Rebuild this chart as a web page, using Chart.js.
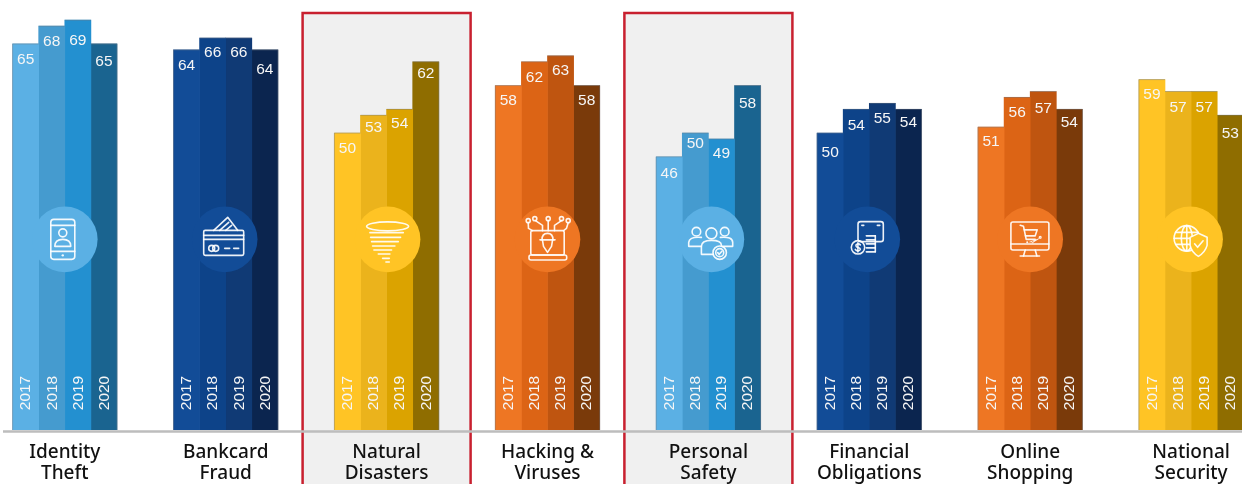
<!DOCTYPE html>
<html>
<head>
<meta charset="utf-8">
<style>html,body{margin:0;padding:0;background:#fff;overflow:hidden}canvas{display:block}</style>
<script src="https://cdn.jsdelivr.net/npm/chart.js@4/dist/chart.umd.min.js"></script>
</head>
<body>
<canvas id="c" width="1242" height="484"></canvas>
<script>
const categories = [["Identity","Theft"],["Bankcard","Fraud"],["Natural","Disasters"],["Hacking &","Viruses"],["Personal","Safety"],["Financial","Obligations"],["Online","Shopping"],["National","Security"]];
const years = ["2017","2018","2019","2020"];
const values2017 = [65,64,50,58,46,50,51,59];
const values2018 = [68,66,53,62,50,54,56,57];
const values2019 = [69,66,54,63,49,55,57,57];
const values2020 = [65,64,62,58,58,54,54,53];
const highlighted = [2,4];
const sky = ["#5BB0E4","#459BCF","#2390D0","#1A6490"];
const navy = ["#124C97","#0D4389","#103A75","#0B254F"];
const gold = ["#FFC425","#EBB31C","#DBA300","#8F6D00"];
const orange = ["#EE7623","#DC6415","#BF5510","#7A3A0A"];
const groupPalette = [sky,navy,gold,orange,sky,navy,orange,gold];
const iconShift = [0,-1,1,0,3,-2,0,-1];
const labelNudge = [[0,0,5,2],[0,-1,-1,4],[0,-3,-1,-4],[0,0,-1,0],[1,-5,-1,3],[4,1,0,-2],[-1,0,2,-2],[0,1,1,3]];

function line(g,pts){g.beginPath();pts.forEach((p,i)=>i?g.lineTo(p[0],p[1]):g.moveTo(p[0],p[1]));g.stroke();}
function circ(g,x,y,r){g.beginPath();g.arc(x,y,r,0,Math.PI*2);g.stroke();}
const icons = [
 g=>{g.beginPath();g.roundRect(-14,-20,24,40,3);g.stroke();line(g,[[-14,-14],[10,-14]]);line(g,[[-14,12],[10,12]]);
  circ(g,-2,-6.5,4);g.beginPath();g.moveTo(-10,7);g.quadraticCurveTo(-10,0,-2,0);g.quadraticCurveTo(6,0,6,7);g.closePath();g.stroke();
  g.beginPath();g.arc(-2,16,1.2,0,7);g.fill();},
 g=>{g.beginPath();g.roundRect(-21,-9,40,25,1.5);g.stroke();line(g,[[-21,-4],[19,-4]]);line(g,[[-21,0],[19,0]]);
  line(g,[[-11,-9],[3,-22],[13,-9]]);line(g,[[-5,-9],[4,-17]]);line(g,[[1,-9],[7,-14]]);
  circ(g,-13,9,3);circ(g,-9,9,3);line(g,[[0,9],[5,9]]);line(g,[[9,9],[14,9]]);},
 g=>{g.beginPath();g.ellipse(0,-13,21,4.5,0,0,7);g.stroke();
  [[-6.7,-17.7,15.7],[-2,-17,13],[2.3,-16,10.7],[6.7,-15,7.3],[10.7,-13.7,4],[14.7,-9.3,2.3],[19,-5,1.7],[22.7,-1.7,1.7]].forEach(s=>line(g,[[s[1],s[0]],[s[2],s[0]]]));},
 g=>{g.beginPath();g.roundRect(-16.7,-8.7,33.4,24.4,1.5);g.stroke();g.beginPath();g.roundRect(-18.5,15.7,37.7,5,2);g.stroke();
  [[-19.3,-18.7],[-12.7,-20.7],[0.7,-20.7],[14,-20.7],[20.7,-18.7]].forEach(p=>circ(g,p[0],p[1],2));
  line(g,[[-19.3,-16.7],[-19,-11],[-15,-8.7]]);line(g,[[-12,-18.7],[-5,-14],[-5,-8.7]]);line(g,[[0.7,-18.7],[0.7,-8.7]]);line(g,[[14,-18.7],[7,-14],[7,-8.7]]);line(g,[[20.7,-16.7],[19,-11],[16,-8.7]]);
  line(g,[[-7.5,0.5],[7.5,0.5]]);g.beginPath();g.moveTo(-5.5,0.5);g.quadraticCurveTo(-5.5,-6,0,-6);g.quadraticCurveTo(5.5,-6,5.5,0.5);g.stroke();
  line(g,[[-5,1],[-4,7],[0,13],[4,7],[5,1]]);},
 g=>{circ(g,-15,-7.7,4.3);circ(g,13.3,-7.7,4.3);circ(g,0,-6,5.5);
  g.beginPath();g.moveTo(-10,-2);g.quadraticCurveTo(-22,-3,-22.7,3);g.lineTo(-22.7,7);g.lineTo(-10,7);g.stroke();
  g.beginPath();g.moveTo(9,-2);g.quadraticCurveTo(21,-3,21.3,3);g.lineTo(21.3,7);g.lineTo(11,7);g.stroke();
  g.beginPath();g.moveTo(2,15);g.lineTo(-10,15);g.lineTo(-10,7);g.quadraticCurveTo(-10,1,0,1);g.quadraticCurveTo(10,1,10,6);g.stroke();
  circ(g,8.3,13.3,6.7);circ(g,8.3,13.3,4);line(g,[[6.3,13.3],[7.8,15],[10.5,11.8]]);},
 g=>{g.beginPath();g.roundRect(-9.3,-17.7,25.3,20,2.5);g.stroke();line(g,[[-5.5,-14],[-3.5,-14]]);line(g,[[10,-14],[12.5,-14]]);
  [-3.5,0.5,4.5,8.5,12.5].forEach(y=>line(g,[[-1,y],[8,y]]));line(g,[[8,-3.5],[8,12.5]]);
  circ(g,-9.3,8,6.7);g.beginPath();g.moveTo(-7,5.5);g.bezierCurveTo(-9,3.5,-12.5,5,-11,7.2);g.bezierCurveTo(-10,8.5,-7,8,-7,10);g.bezierCurveTo(-7.5,12,-11,12,-12,10);g.stroke();line(g,[[-9.4,3.4],[-9.4,12.6]]);},
 g=>{g.beginPath();g.roundRect(-19.3,-17.3,38,28,2);g.stroke();line(g,[[-19.3,4.7],[18.7,4.7]]);
  line(g,[[-5,10.7],[-6.7,16.7]]);line(g,[[5,10.7],[6.7,16.7]]);line(g,[[-10,16.7],[9.3,16.7]]);
  line(g,[[-10,-14],[-6.7,-13],[-4,0],[5,0]]);line(g,[[-6,-9.5],[7,-9.5],[5,-3.5],[-4.8,-3.5]]);
  g.beginPath();g.arc(-3,2.8,1,0,7);g.arc(2.5,2.8,1,0,7);g.arc(10,-2,1.6,0,7);g.fill();},
 (g,bg)=>{circ(g,-3.3,-1,12.7);g.beginPath();g.ellipse(-3.3,-1,5.5,12.7,0,0,7);g.stroke();line(g,[[-3.3,-13.7],[-3.3,11.7]]);line(g,[[-16,-1],[9.4,-1]]);line(g,[[-14.5,-7],[8,-7]]);line(g,[[-14.5,5],[8,5]]);
  g.beginPath();g.moveTo(0,-2);g.lineTo(8.3,-6);g.lineTo(17,-2);g.lineTo(17,6);g.quadraticCurveTo(15,13,8.3,17);g.quadraticCurveTo(1.5,13,0,6);g.closePath();g.fillStyle=bg;g.fill();g.stroke();
  line(g,[[4.5,4.5],[7.5,8],[13,1.5]]);}
];

const paintPlugin = {
 id:"paint",
 beforeDraw(chart){
  const g=chart.ctx,x=chart.scales.x;
  g.save();
  highlighted.forEach(i=>{
   const cx=x.getPixelForValue(i);
   g.fillStyle="#F0F0F0";g.fillRect(cx-84,13,168,480);
   g.strokeStyle="#C8202F";g.lineWidth=2.5;g.strokeRect(cx-84,13,168,480);
  });
  g.restore();
 },
 afterDatasetsDraw(chart){
  const g=chart.ctx,{x,y}=chart.scales,area=chart.chartArea;
  g.save();
  const n=chart.data.datasets.length;
  chart.data.datasets.forEach((ds,d)=>{
   chart.getDatasetMeta(d).data.forEach(bar=>{
    const l=bar.x-bar.width/2,r=bar.x+bar.width/2;
    g.fillStyle="rgba(110,120,130,.45)";
    g.fillRect(l,bar.y-0.5,bar.width,1);
    if(d===0)g.fillRect(l-0.5,bar.y,1,area.bottom-bar.y);
    if(d===n-1)g.fillRect(r-0.5,bar.y,1,area.bottom-bar.y);
   });
  });
  g.strokeStyle="#BDBDBD";g.lineWidth=2.5;g.beginPath();g.moveTo(3,area.bottom+1.5);g.lineTo(1242,area.bottom+1.5);g.stroke();
  chart.data.datasets.forEach((ds,d)=>{
   chart.getDatasetMeta(d).data.forEach((bar,i)=>{
    g.fillStyle="#F6F6F6";g.textAlign="center";g.textBaseline="middle";
    g.font='15.5px "Liberation Sans", Arial, sans-serif';
    g.fillText(String(ds.data[i].y),bar.x,bar.y+15.5+labelNudge[i][d]);
    g.save();g.translate(bar.x+0.5,area.bottom-37);g.rotate(-Math.PI/2);
    g.fillText(ds.label,0,0);g.restore();
   });
  });
  categories.forEach((c,i)=>{
   const cx=x.getPixelForValue(i)+iconShift[i],cy=y.getPixelForValue(32.1),bg=groupPalette[i][0];
   g.fillStyle=bg;g.beginPath();g.arc(cx,cy,32.8,0,Math.PI*2);g.fill();
   g.save();g.translate(cx,cy);g.strokeStyle="rgba(255,255,255,.92)";g.fillStyle="rgba(255,255,255,.92)";g.lineWidth=1.6;g.lineJoin="round";g.lineCap="round";
   icons[i](g,bg);g.restore();
  });
  g.restore();
 }
};

new Chart(document.getElementById("c"),{
 type:"bar",
 data:{
  labels:categories,
  datasets:[values2017,values2018,values2019,values2020].map((vals,d)=>({
   label:years[d],
   data:vals.map((v,i)=>({x:i,y:v})),
   backgroundColor:groupPalette.map(p=>p[d]),
   borderWidth:0,
   inflateAmount:0.33,
   categoryPercentage:104.5/161,
   barPercentage:1
  }))
 },
 options:{
  responsive:false,animation:false,devicePixelRatio:1,
  layout:{padding:0},
  plugins:{legend:{display:false},tooltip:{enabled:false},title:{display:false}},
  scales:{
   x:{type:"linear",offset:false,min:-0.4027,max:7.3163,
      grid:{display:false,drawTicks:false},border:{display:false},
      afterBuildTicks(s){s.min=-0.4027;s.max=7.3163;s.ticks=categories.map((c,i)=>({value:i}));},
      afterFit(s){s.height=54;},
      ticks:{stepSize:1,autoSkip:false,maxRotation:0,padding:12,
        color:"#111",font:{family:'"Noto Sans"',size:19,weight:"500",lineHeight:1.11},
        callback:v=>categories[v]||""}},
   y:{display:false,min:0,max:72.4,grid:{display:false}}
  }
 },
 plugins:[paintPlugin]
});
</script>
</body>
</html>
